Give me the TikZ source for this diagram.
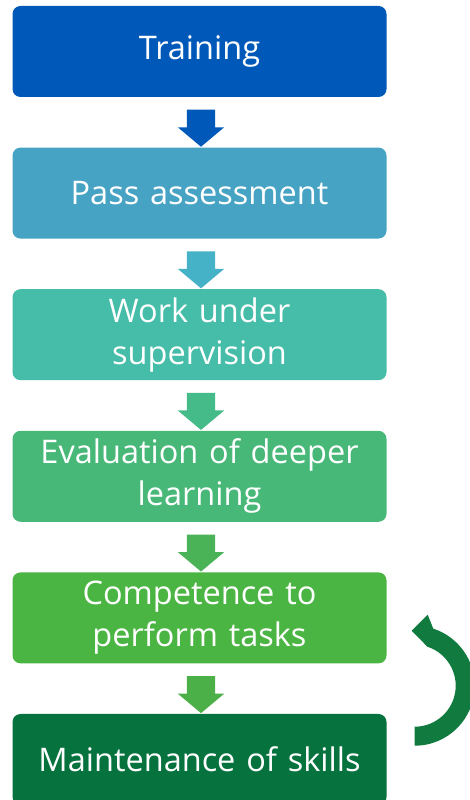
\documentclass[tikz,border=0pt]{standalone}
\usepackage{fontspec}
\setmainfont{Open Sans}
\usetikzlibrary{positioning, shapes.arrows}

\definecolor{trainblue}{RGB}{0,88,184}
\definecolor{passblue}{RGB}{71,163,195}
\definecolor{passarrow}{RGB}{69,178,199}
\definecolor{worksea}{RGB}{69,189,169}
\definecolor{workarrow}{RGB}{70,187,138}
\definecolor{evalgreen}{RGB}{72,184,120}
\definecolor{evalarrow}{RGB}{75,179,87}
\definecolor{compgreen}{RGB}{75,181,67}
\definecolor{comparrow}{RGB}{76,176,73}
\definecolor{maintgreen}{RGB}{6,114,62}
\definecolor{loopgreen}{RGB}{17,122,62}

\begin{document}
\begin{tikzpicture}[x=1pt,y=1pt,
    stagebox/.style={rectangle,rounded corners=8pt,draw=none,minimum width=374pt,
      minimum height=91pt,text width=370pt,align=center,inner sep=0pt,text=white,
      font=\fontsize{32.5}{42}\selectfont},
    downarrow/.style={single arrow,draw=none,rotate=-90,minimum height=37pt,
      inner xsep=0pt,inner ysep=14pt,single arrow head extend=9pt,
      single arrow tip angle=100,single arrow head indent=0pt},
    node distance=50.2pt]
  \useasboundingbox (0,0) rectangle (470,800);

  \node (train) [stagebox,fill=trainblue] at (199.5,748.5) {Training};
  \node (pass) [stagebox,fill=passblue,below=of train] {Pass assessment};
  \node (work) [stagebox,fill=worksea,below=of pass] {Work under\\supervision};
  \node (eval) [stagebox,fill=evalgreen,below=of work] {Evaluation of deeper\\learning};
  \node (comp) [stagebox,fill=compgreen,below=of eval] {Competence to\\perform tasks};
  \node (maint) [stagebox,fill=maintgreen,below=of comp] {Maintenance of skills};

  \path (train) -- (pass) node[downarrow,fill=trainblue,midway,yshift=1.5pt] {};
  \path (pass) -- (work) node[downarrow,fill=passarrow,midway,yshift=1.5pt] {};
  \path (work) -- (eval) node[downarrow,fill=workarrow,midway,yshift=1.5pt] {};
  \path (eval) -- (comp) node[downarrow,fill=evalarrow,midway,yshift=1.5pt] {};
  \path (comp) -- (maint) node[downarrow,fill=comparrow,midway,yshift=1.5pt] {};

  % loop back from maintenance to competence
  \path (comp.south east) -- (maint.north east) coordinate[midway,xshift=28pt,yshift=3pt] (loopc);
  \fill[loopgreen] (loopc) ++(-90:60) arc[start angle=-90,end angle=72,radius=60]
    -- ([shift={(13,71)}]loopc) -- ([shift={(-3,55)}]loopc) -- ([shift={(72:41)}]loopc)
    arc[start angle=72,end angle=-90,radius=41] -- cycle;
\end{tikzpicture}
\end{document}
